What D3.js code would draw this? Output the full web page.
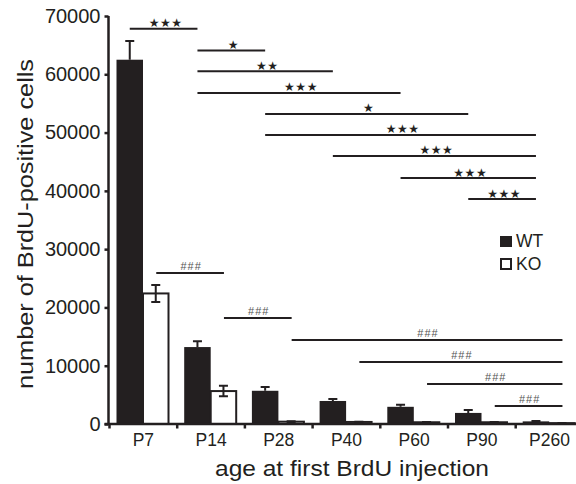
<!DOCTYPE html>
<html>
<head>
<meta charset="utf-8">
<script src="https://cdn.jsdelivr.net/npm/d3@7"></script>
<style>
  body { margin: 0; background: #fff; }
  text { font-family: "Liberation Sans", Arial, sans-serif; fill: #231f20; }
</style>
</head>
<body>
<div id="chart"></div>
<script>
// categories and series values
const categories = ['P7', 'P14', 'P28', 'P40', 'P60', 'P90', 'P260'];
const wtMean = [62500, 13200, 5700, 3950, 2950, 1900, 450];
const wtErr  = [3200, 1000, 650, 350, 350, 500, 80];
const koMean = [22400, 5650, 400, 350, 300, 300, 150];
const koErr  = [1450, 900, 80, 50, 50, 50, 40];
const yTicks = [0, 10000, 20000, 30000, 40000, 50000, 60000, 70000];

// WT comparisons: from, to, label, level (in y units)
const wtFrom   = ['P7', 'P14', 'P14', 'P14', 'P28', 'P28', 'P40', 'P60', 'P90'];
const wtTo     = ['P14', 'P28', 'P40', 'P60', 'P90', 'P260', 'P260', 'P260', 'P260'];
const wtLabel  = ['★★★', '★', '★★', '★★★', '★', '★★★', '★★★', '★★★', '★★★'];
const wtLevel  = [67800, 64100, 60500, 56800, 53200, 49600, 46000, 42200, 38600];

// KO comparisons
const koFrom  = ['P7', 'P14', 'P28', 'P40', 'P60', 'P90'];
const koTo    = ['P14', 'P28', 'P260', 'P260', 'P260', 'P260'];
const koLabel = ['###', '###', '###', '###', '###', '###'];
const koLevel = [25900, 18200, 14400, 10650, 6850, 3100];

const W = 576, H = 484;
const ink = '#231f20';

const svg = d3.select('#chart').append('svg')
    .attr('width', W)
    .attr('height', H);

// band scale, one band per age; ticks at band boundaries
const x0 = d3.scaleBand()
    .domain(categories)
    .range([109.5, 109.5 + 7 * 67.7])
    .padding(0);

const x1 = d3.scaleBand()
    .domain(['WT', 'KO'])
    .range([7, 60])
    .padding(0);

const y = d3.scaleLinear()
    .domain([0, 70000])
    .range([424, 16]);

const rows = categories.map((c, i) => ({
    cat: c, wt: wtMean[i], wtE: wtErr[i], ko: koMean[i], koE: koErr[i]
}));

// ---- bars ----
const g = svg.append('g');

g.selectAll('rect.wt')
    .data(rows)
    .join('rect')
    .attr('class', 'wt')
    .attr('x', d => x0(d.cat) + x1('WT'))
    .attr('width', x1.bandwidth())
    .attr('y', d => y(d.wt))
    .attr('height', d => y(0) - y(d.wt))
    .attr('fill', ink);

g.selectAll('rect.ko')
    .data(rows)
    .join('rect')
    .attr('class', 'ko')
    .attr('x', d => x0(d.cat) + x1('KO'))
    .attr('width', x1.bandwidth() - 1)
    .attr('y', d => y(d.ko))
    .attr('height', d => y(0) - y(d.ko))
    .attr('fill', '#fff')
    .attr('stroke', ink)
    .attr('stroke-width', 2);

// ---- error bars ----
const cap = 4.5;
const wtCx = d => x0(d.cat) + x1('WT') + x1.bandwidth() / 2;
const koCx = d => x0(d.cat) + x1('KO') + x1.bandwidth() / 2 - 0.5;

g.selectAll('path.wtErr')
    .data(rows)
    .join('path')
    .attr('class', 'wtErr')
    .attr('d', d => {
        const cx = wtCx(d), top = y(d.wt + d.wtE);
        return `M${cx},${y(d.wt)}V${top}M${cx - cap},${top}H${cx + cap}`;
    })
    .attr('stroke', ink)
    .attr('stroke-width', 2)
    .attr('fill', 'none');

g.selectAll('path.koErr')
    .data(rows)
    .join('path')
    .attr('class', 'koErr')
    .attr('d', d => {
        const cx = koCx(d), top = y(d.ko + d.koE), bot = y(d.ko - d.koE);
        return `M${cx},${bot}V${top}M${cx - cap},${top}H${cx + cap}M${cx - cap},${bot}H${cx + cap}`;
    })
    .attr('stroke', ink)
    .attr('stroke-width', 2)
    .attr('fill', 'none');

// ---- axes ----
const yAxis = svg.append('g')
    .attr('transform', 'translate(108.5,0)')
    .call(d3.axisLeft(y).tickValues(yTicks).tickSize(4).tickPadding(4).tickFormat(d3.format('d')));
yAxis.select('.domain').attr('stroke', ink).attr('stroke-width', 2.5).attr('d', `M0,${y(0)}V${y(70000)}`);
yAxis.selectAll('.tick line').attr('stroke', ink).attr('stroke-width', 2.5);
yAxis.selectAll('.tick text')
    .style('font-size', '20px')
    .style('font-family', '"Liberation Sans", Arial, sans-serif')
    .attr('fill', ink);

const xAxis = svg.append('g')
    .attr('transform', `translate(0,${y(0)})`)
    .call(d3.axisBottom(x0).tickSize(0).tickPadding(10));
xAxis.select('.domain').attr('stroke', ink).attr('stroke-width', 2.5)
    .attr('d', `M104.5,0H${W + 10}`);
xAxis.selectAll('.tick text')
    .style('font-size', '17.5px')
    .style('font-family', '"Liberation Sans", Arial, sans-serif')
    .attr('fill', ink);

// boundary ticks between categories
xAxis.selectAll('line.bound')
    .data(categories)
    .join('line')
    .attr('class', 'bound')
    .attr('x1', d => x0(d)).attr('x2', d => x0(d))
    .attr('y1', 0).attr('y2', 4.5)
    .attr('stroke', ink)
    .attr('stroke-width', 2.5);

// ---- axis titles ----
svg.append('text')
    .attr('transform', 'translate(33,224) rotate(-90)')
    .attr('text-anchor', 'middle')
    .attr('textLength', 330)
    .attr('lengthAdjust', 'spacingAndGlyphs')
    .style('font-size', '22px')
    .text('number of BrdU-positive cells');

svg.append('text')
    .attr('x', 352)
    .attr('y', 476)
    .attr('text-anchor', 'middle')
    .attr('textLength', 274)
    .attr('lengthAdjust', 'spacingAndGlyphs')
    .style('font-size', '21.5px')
    .text('age at first BrdU injection');

// ---- significance brackets ----
const wtCenter = c => x0(c) + x1('WT') + x1.bandwidth() / 2;
const koCenter = c => x0(c) + x1('KO') + x1.bandwidth() / 2;

const wtSig = wtFrom.map((f, i) => ({ a: f, b: wtTo[i], t: wtLabel[i], v: wtLevel[i] }));
const koSig = koFrom.map((f, i) => ({ a: f, b: koTo[i], t: koLabel[i], v: koLevel[i] }));

const sig = svg.append('g');
sig.selectAll('line.wtSig')
    .data(wtSig)
    .join('line')
    .attr('x1', d => wtCenter(d.a))
    .attr('x2', d => wtCenter(d.b))
    .attr('y1', d => y(d.v)).attr('y2', d => y(d.v))
    .attr('stroke', ink)
    .attr('stroke-width', 2);

sig.selectAll('text.wtSig')
    .data(wtSig)
    .join('text')
    .attr('x', d => (wtCenter(d.a) + wtCenter(d.b)) / 2 + 2)
    .attr('y', d => y(d.v) - 1.5)
    .attr('text-anchor', 'middle')
    .style('font-family', '"DejaVu Sans", sans-serif')
    .style('font-size', '12px')
    .style('letter-spacing', '0.5px')
    .text(d => d.t);

sig.selectAll('line.koSig')
    .data(koSig)
    .join('line')
    .attr('x1', d => koCenter(d.a))
    .attr('x2', d => koCenter(d.b))
    .attr('y1', d => y(d.v)).attr('y2', d => y(d.v))
    .attr('stroke', ink)
    .attr('stroke-width', 2);

sig.selectAll('text.koSig')
    .data(koSig)
    .join('text')
    .attr('x', d => (koCenter(d.a) + koCenter(d.b)) / 2 + 1)
    .attr('y', d => y(d.v) - 3)
    .attr('text-anchor', 'middle')
    .style('font-size', '11px')
    .style('letter-spacing', '1px')
    .style('fill', '#555')
    .text(d => d.t);

// ---- legend ----
const legend = svg.append('g').attr('transform', 'translate(500,236)');
legend.append('rect')
    .attr('width', 12).attr('height', 11)
    .attr('fill', ink);
legend.append('text')
    .attr('x', 16).attr('y', 11)
    .style('font-size', '17.5px')
    .text('WT');
legend.append('rect')
    .attr('x', 1).attr('y', 23)
    .attr('width', 10).attr('height', 10)
    .attr('fill', '#fff')
    .attr('stroke', ink)
    .attr('stroke-width', 2);
legend.append('text')
    .attr('x', 16).attr('y', 34)
    .style('font-size', '17.5px')
    .text('KO');
</script>
</body>
</html>
